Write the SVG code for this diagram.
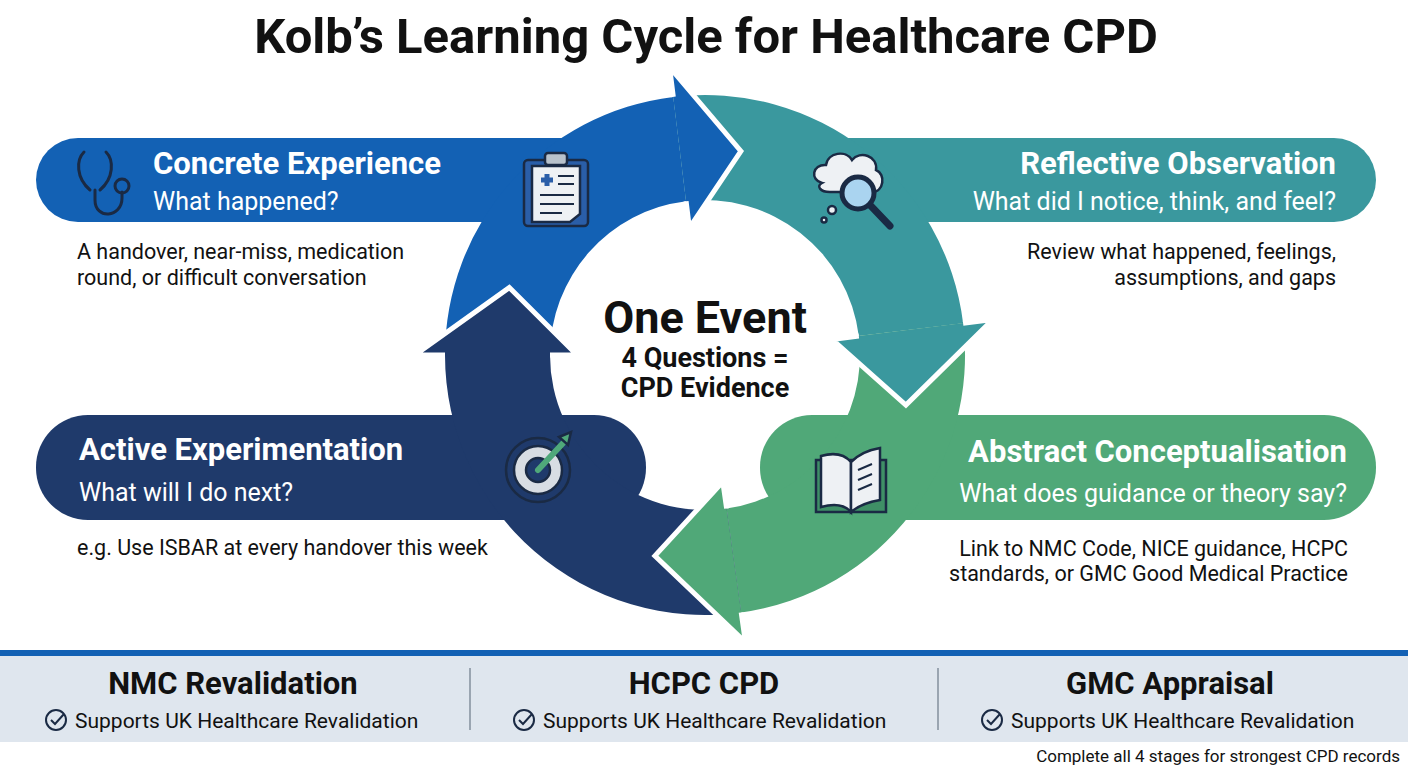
<svg xmlns="http://www.w3.org/2000/svg" width="1408" height="768" viewBox="0 0 1408 768">
<style>
text{font-family:"Roboto","Liberation Sans",sans-serif}
.h{font-weight:700;fill:#fff;font-size:31px}
.q{fill:#fff;font-size:25px}
.b{fill:#111;font-size:21.5px}
.ft{font-weight:700;fill:#111;font-size:31px;text-anchor:middle}
.fs{fill:#111;font-size:21px}
.ol{fill:none;stroke:#fff;stroke-width:5;stroke-linejoin:miter}
.ic{fill:none;stroke:#1a2a44;stroke-width:3;stroke-linecap:round;stroke-linejoin:round}
</style>
<rect width="1408" height="768" fill="#fff"/>
<text x="706" y="53" text-anchor="middle" font-size="49" font-weight="700" fill="#111">Kolb’s Learning Cycle for Healthcare CPD</text>

<g id="banners">
<rect x="36" y="138" width="580" height="84" rx="42" fill="#1361b4"/>
<rect x="790" y="138" width="586" height="84" rx="42" fill="#3a989e"/>
<rect x="36" y="415" width="610" height="105" rx="52" fill="#1f3a6b"/>
<rect x="760" y="415" width="616" height="105" rx="52" fill="#50a878"/>
</g>

<g id="connectors">
<path d="M445,355 A260,260 0 0 1 673.3,96.9 L686.1,201.2 A155,155 0 0 0 550,355 Z" fill="#1361b4"/>
<path d="M673.3,96.9 A260,260 0 0 1 963.1,323.3 L858.8,336.1 A155,155 0 0 0 686.1,201.2 Z" fill="#3a989e"/>
<path d="M963.1,323.3 A260,260 0 0 1 741.2,612.5 L726.6,508.5 A155,155 0 0 0 858.8,336.1 Z" fill="#50a878"/>
<path d="M741.2,612.5 A260,260 0 0 1 445,355 L550,355 A155,155 0 0 0 726.6,508.5 Z" fill="#1f3a6b"/>
<polygon points="669.6,67.2 740.9,151.1 689.4,228" fill="#1361b4"/>
<polyline class="ol" points="673.3,96.9 669.6,67.2 740.9,151.1 689.4,228 686.1,201.2"/>
<polygon points="992.8,319.6 905.9,405.1 832,339.4" fill="#3a989e"/>
<polyline class="ol" points="963.1,323.3 992.8,319.6 905.9,405.1 832,339.4 858.8,336.1"/>
<polygon points="745.4,642.2 654.9,555.9 722.8,481.8" fill="#50a878"/>
<polyline class="ol" points="741.2,612.5 745.4,642.2 654.9,555.9 722.8,481.8 726.6,508.5"/>
<polygon points="415,355 509.3,287.6 577,355" fill="#1f3a6b"/>
<polyline class="ol" points="445,355 415,355 509.3,287.6 577,355 550,355"/>
</g>

<g id="center">
<text x="705" y="333" text-anchor="middle" font-size="45" font-weight="700" fill="#111">One Event</text>
<text x="705" y="367" text-anchor="middle" font-size="27" font-weight="700" fill="#111">4 Questions =</text>
<text x="705" y="397" text-anchor="middle" font-size="27" font-weight="700" fill="#111">CPD Evidence</text>
</g>

<g id="concrete">
<g class="ic" stroke="#1a2a44">
<path d="M84,152 C76,160 76,178 90,190 M106,152 C114,160 114,178 100,190 M95,190 L95,200 C95,220 122,218 122,198 L122,192"/>
<circle cx="122" cy="186" r="7"/>
</g>
<text class="h" x="153" y="174">Concrete Experience</text>
<text class="q" x="153" y="210">What happened?</text>
<text class="b" x="77" y="259">A handover, near-miss, medication</text>
<text class="b" x="77" y="285">round, or difficult conversation</text>
<g>
<rect x="524" y="160" width="64" height="66" rx="4" fill="#2a5ea8" stroke="#1a2a44" stroke-width="2.5"/>
<path d="M532,166 H580 V214 L570,222 H532 Z" fill="#eef1f4" stroke="#1a2a44" stroke-width="2.5"/>
<rect x="545" y="153" width="22" height="12" rx="3" fill="#b8c2cc" stroke="#1a2a44" stroke-width="2.5"/>
<path d="M541,180 h12 M547,174 v12" stroke="#2a5ea8" stroke-width="5"/>
<path d="M558,176 h16 M558,184 h16 M540,195 h34 M540,204 h34 M540,213 h22" stroke="#1a2a44" stroke-width="2"/>
</g>
</g>

<g id="reflective">
<text class="h" x="1336" y="174" text-anchor="end">Reflective Observation</text>
<text class="q" x="1336" y="210" text-anchor="end">What did I notice, think, and feel?</text>
<text class="b" x="1336" y="259" text-anchor="end">Review what happened, feelings,</text>
<text class="b" x="1336" y="285" text-anchor="end">assumptions, and gaps</text>
<g stroke="#1a2a44" stroke-width="2.5">
<path d="M822,183 C810,180 812,164 826,165 C828,152 846,150 852,160 C860,150 878,156 876,170 C886,174 884,192 872,192 L830,192 C820,192 816,186 822,183 Z" fill="#eef1f4"/>
<circle cx="832" cy="210" r="4" fill="#eef1f4"/><circle cx="824" cy="220" r="2.5" fill="#eef1f4"/>
<line x1="870" y1="205" x2="890" y2="226" stroke-width="7" stroke-linecap="round"/>
<circle cx="858" cy="193" r="16" fill="#aad4f0" stroke-width="5"/>
</g>
</g>

<g id="abstract">
<text class="h" x="1347" y="462" text-anchor="end">Abstract Conceptualisation</text>
<text class="q" x="1347" y="502" text-anchor="end">What does guidance or theory say?</text>
<text class="b" x="1348" y="556" text-anchor="end">Link to NMC Code, NICE guidance, HCPC</text>
<text class="b" x="1348" y="581" text-anchor="end">standards, or GMC Good Medical Practice</text>
<g stroke="#1a2a44" stroke-width="2.5">
<rect x="816" y="460" width="70" height="52" fill="#3f8f66"/>
<path d="M821,456 C835,452 845,455 851,462 L851,512 C845,505 835,503 821,507 Z" fill="#eef1f4"/>
<path d="M851,462 C858,455 868,450 880,448 L880,500 C868,502 858,506 851,512 Z" fill="#eef1f4"/>
<path d="M858,470 l14,-6 M858,480 l14,-6 M858,490 l14,-6" stroke-width="2"/>
</g>
</g>

<g id="active">
<text class="h" x="79" y="460">Active Experimentation</text>
<text class="q" x="79" y="501">What will I do next?</text>
<text class="b" x="77" y="555">e.g. Use ISBAR at every handover this week</text>
<g stroke="#1a2a44" stroke-width="2.5">
<circle cx="538" cy="470" r="32" fill="#1f3a6b"/>
<circle cx="538" cy="470" r="24" fill="#d8dde3"/>
<circle cx="538" cy="470" r="12" fill="#1f3a6b"/>
<line x1="538" y1="470" x2="565" y2="441" stroke="#4fa87a" stroke-width="6" stroke-linecap="round"/>
<path d="M559,437 l12,-5 l-3,13 Z" fill="#4fa87a"/>
</g>
</g>

<g id="footer">
<rect x="0" y="650" width="1408" height="6" fill="#1361b4"/>
<rect x="0" y="656" width="1408" height="86" fill="#dfe6ee"/>
<line x1="470" y1="668" x2="470" y2="730" stroke="#9aa5b1" stroke-width="2"/>
<line x1="938" y1="668" x2="938" y2="730" stroke="#9aa5b1" stroke-width="2"/>
<g id="nmc">
<text class="ft" x="233" y="694">NMC Revalidation</text>
<circle cx="56" cy="720" r="10" fill="none" stroke="#1a2a44" stroke-width="2"/><path d="M51,720 l4,4 l9,-10" fill="none" stroke="#1a2a44" stroke-width="2"/>
<text class="fs" x="75" y="728">Supports UK Healthcare Revalidation</text>
</g>
<g id="hcpc">
<text class="ft" x="704" y="694">HCPC CPD</text>
<circle cx="524" cy="720" r="10" fill="none" stroke="#1a2a44" stroke-width="2"/><path d="M519,720 l4,4 l9,-10" fill="none" stroke="#1a2a44" stroke-width="2"/>
<text class="fs" x="543" y="728">Supports UK Healthcare Revalidation</text>
</g>
<g id="gmc">
<text class="ft" x="1170" y="694">GMC Appraisal</text>
<circle cx="992" cy="720" r="10" fill="none" stroke="#1a2a44" stroke-width="2"/><path d="M987,720 l4,4 l9,-10" fill="none" stroke="#1a2a44" stroke-width="2"/>
<text class="fs" x="1011" y="728">Supports UK Healthcare Revalidation</text>
</g>
<text x="1400" y="762" text-anchor="end" font-size="17" fill="#111">Complete all 4 stages for strongest CPD records</text>
</g>
</svg>
